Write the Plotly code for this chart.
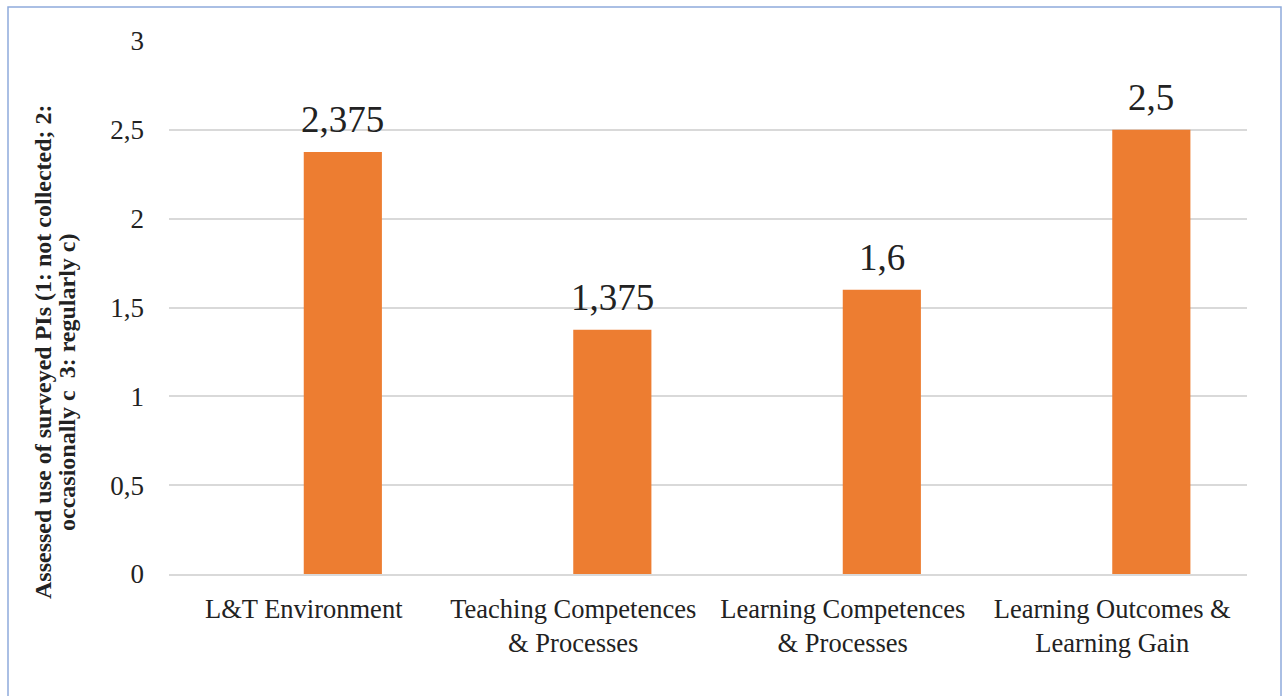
import plotly.graph_objects as go

categories = ["L&T Environment", "Teaching Competences<br>& Processes",
              "Learning Competences<br>& Processes", "Learning Outcomes &<br>Learning Gain"]
values = [2.375, 1.375, 1.6, 2.5]
y_ticks = [0, 0.5, 1, 1.5, 2, 2.5, 3]
y_title_lines = ["Assessed use of surveyed PIs (1: not collected; 2:",
                 "occasionally c  3: regularly c)"]

labels = [f"{v:g}".replace(".", ",") for v in values]
FONT = "Liberation Serif"
BAR_W = 0.29

fig = go.Figure()
fig.add_trace(go.Bar(
    x=list(range(len(categories))), y=values, marker=dict(color="#ED7D31", line=dict(width=0)),
    width=BAR_W, offset=0,
))

W, H = 1284, 696
L, R, T, B = 169, 37, 41, 122
pw, ph = W - L - R, H - T - B

def px(x):
    return (x - L) / pw

def py(y):
    return (H - B - y) / ph

title_pos = [(43, 352), (67, 382)]
annotations = [dict(text="<b>" + t + "</b>", xref="paper", yref="paper",
                    x=px(xc), y=py(yc), xanchor="center", yanchor="middle",
                    textangle=-90, showarrow=False,
                    font=dict(family=FONT, size=24, color="#222222"))
               for t, (xc, yc) in zip(y_title_lines, title_pos)]
annotations += [dict(text=lab, xref="x", yref="y", x=i + BAR_W / 2, y=v,
                     xanchor="center", yanchor="bottom", yshift=10, showarrow=False,
                     font=dict(family=FONT, size=37, color="#222222"))
                for i, (lab, v) in enumerate(zip(labels, values))]

fig.update_layout(
    width=W, height=H,
    margin=dict(l=L, r=R, t=T, b=B),
    paper_bgcolor="white", plot_bgcolor="white",
    separators=",.",
    showlegend=False,
    font=dict(family=FONT, color="#222222"),
    xaxis=dict(showgrid=False, showline=True, linecolor="#d9d9d9", linewidth=2,
               range=[-0.5, len(categories) - 0.5],
               tickvals=list(range(len(categories))), ticktext=categories,
               ticks="", ticklabelstandoff=10,
               tickfont=dict(size=26.5, family=FONT, color="#222222")),
    yaxis=dict(range=[0, 3], tickvals=y_ticks, ticktext=[f"{t:g}".replace(".", ",") for t in y_ticks],
               showgrid=True, gridcolor="#d9d9d9", gridwidth=2, zeroline=False,
               showline=False, ticks="", ticklabelstandoff=24,
               tickfont=dict(size=27, family=FONT, color="#222222")),
    annotations=annotations,
    shapes=[dict(type="rect", xref="paper", yref="paper",
                 x0=px(8), x1=px(1281), y0=py(705), y1=py(7),
                 line=dict(color="#8FAADC", width=1.5), fillcolor="rgba(0,0,0,0)", layer="below")],
)

fig.write_html("out.html")
